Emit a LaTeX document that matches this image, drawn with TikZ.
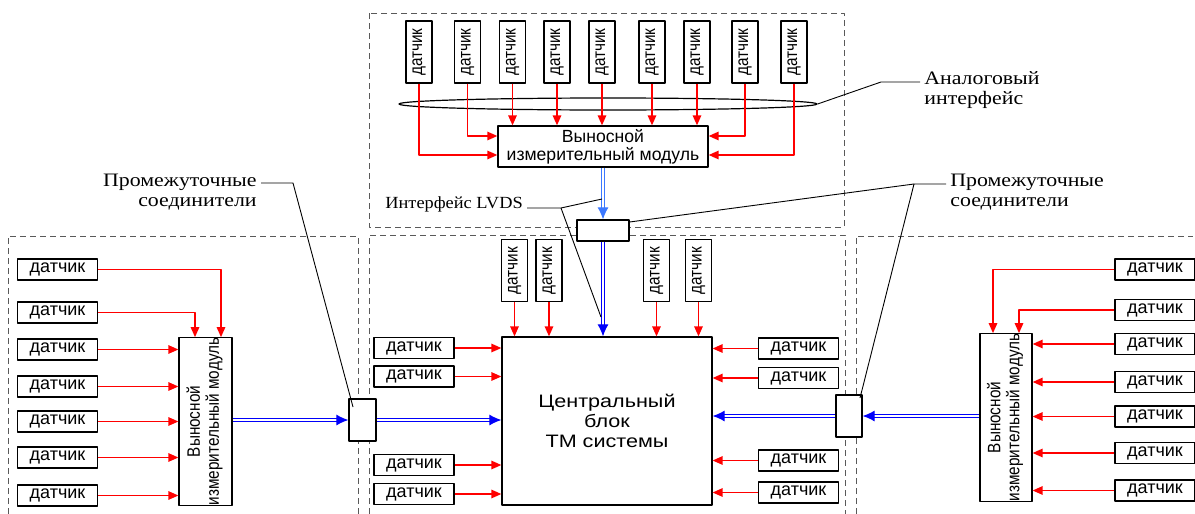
\documentclass[tikz,border=0pt]{standalone}
\usepackage{fontspec}
\setmainfont{Liberation Serif}
\newfontfamily\arialf{Liberation Sans}
\newfontfamily\arialcond[FakeStretch=0.85]{Liberation Sans}
\newfontfamily\arialwide[FakeStretch=1.2]{Liberation Sans}
\newfontfamily\timesw[FakeStretch=1.15]{Liberation Serif}
\newfontfamily\timesn[FakeStretch=1.08]{Liberation Serif}
\usepackage{tikz}
\usetikzlibrary{arrows.meta,shapes.geometric}
\usepackage{xcolor}
\definecolor{sigred}{RGB}{255,0,0}
\definecolor{lvdsblue}{RGB}{0,0,250}
\definecolor{lvdslight}{RGB}{60,120,255}
\newcommand{\vdat}{\rotatebox{90}{датчик}}
\newcommand{\vmod}{\rotatebox{90}{\begin{tabular}{@{}c@{}}Выносной\\измерительный модуль\end{tabular}}}

\begin{document}
\begin{tikzpicture}[x=0.5pt,y=-0.5pt,line join=round,
  sensh/.style={draw,line width=0.6pt,minimum width=40pt,minimum height=10.5pt,inner sep=0pt,font=\arialf\fontsize{9}{10}\selectfont},
  sensv/.style={draw,line width=0.6pt,minimum width=13pt,minimum height=31pt,inner sep=0pt,font=\arialcond\fontsize{9}{10}\selectfont},
  modbox/.style={draw,line width=0.6pt,inner sep=0pt,align=center},
  plug/.style={draw,line width=0.6pt,fill=white,inner sep=0pt},
  zone/.style={draw=black!65,line width=0.5pt,dash pattern=on 3pt off 2pt},
  sig/.style={sigred,line width=0.8pt,-{Triangle[length=5pt,width=4.2pt]}},
  lvds/.style={draw=lvdsblue,double=white,double distance=0.7pt,line width=0.55pt,-{Latex[length=6pt,width=5.5pt]}},
  lead/.style={line width=0.45pt},
  note/.style={font=\timesw\fontsize{9.5}{10}\selectfont,inner sep=2pt}]
\useasboundingbox (0,0) rectangle (1195,514);
\draw[zone] (369,13) rectangle (844,227);
\draw[zone] (369,514) -- (369,235) -- (845,235) -- (845,514);
\draw[zone] (8,514) -- (8,236) -- (358,236) -- (358,514);
\draw[zone] (856,514) -- (856,236) -- (1193,236);
\foreach \n/\x in {1/419,2/467.5,3/512.5,4/557,5/602,6/652,7/697,8/745,9/794}
  \node[sensv] (t\n) at (\x,52) {\vdat};
\node[draw,ellipse,line width=0.6pt,minimum width=209pt,minimum height=6pt,inner sep=0pt] (bus) at (608,104) {};
\node[modbox,minimum width=105pt,minimum height=20.5pt,font=\arialf\fontsize{8.8}{9.2}\selectfont] (vm) at (603,146.5) {Выносной\\измерительный модуль};
\foreach \n in {3,...,7}
  \draw[sig] (t\n.south) -- (t\n.south |- vm.north);
\draw[sig] (t1.south) |- ([yshift=-4.25pt]vm.west);
\draw[sig] (t2.south) |- ([yshift=5.25pt]vm.west);
\draw[sig] (t8.south) |- ([yshift=5.25pt]vm.east);
\draw[sig] (t9.south) |- ([yshift=-4.25pt]vm.east);
\node[plug,minimum width=26pt,minimum height=10.5pt] (cc) at (603,230.5) {};
\node[modbox,minimum width=105pt,minimum height=84pt,font=\arialwide\fontsize{9}{10}\selectfont] (cb) at (607,421) {Центральный\\блок\\ТМ системы};
\draw[lvds,draw=lvdslight] (vm.south) -- (cc.north);
\draw[lvds] (cc.south) -- (cc.south |- cb.north);
\foreach \n/\x in {1/514.5,2/549,3/656.5,4/698.5}{
  \node[sensv] (c\n) at (\x,270.5) {\vdat};
  \draw[sig] (c\n.south) -- (c\n.south |- cb.north);
}
\foreach \n/\y in {1/348,2/376.5,3/465,4/494}{
  \node[sensh] (cl\n) at (414,\y) {датчик};
  \draw[sig] (cl\n.east) -- (cl\n.east -| cb.west);
}
\foreach \n/\y in {1/348.5,2/378,3/460.5,4/492.5}{
  \node[sensh] (cr\n) at (798.5,\y) {датчик};
  \draw[sig] (cr\n.west) -- (cr\n.west -| cb.east);
}
\node[modbox,minimum width=26.5pt,minimum height=83.5pt,font=\arialcond\fontsize{9}{9.5}\selectfont] (lm) at (205.5,421.5) {\vmod};
\foreach \n/\y in {1/269.5,2/312.5,3/349.5,4/386.5,5/421.5,6/457.5,7/495.5}
  \node[sensh] (ls\n) at (57.5,\y) {датчик};
\draw[sig] (ls1.east) -| ([xshift=7.75pt]lm.north);
\draw[sig] (ls2.east) -| ([xshift=-5.25pt]lm.north);
\foreach \n in {3,...,7}
  \draw[sig] (ls\n.east) -- (ls\n.east -| lm.west);
\node[plug,minimum width=13.5pt,minimum height=21pt] (lc) at (362.5,420) {};
\draw[lvds] (lm.east |- lc.west) -- (lc.west);
\draw[lvds] (lc.east) -- (lc.east -| cb.west);
\node[modbox,minimum width=26pt,minimum height=83.5pt,font=\arialcond\fontsize{9}{9.5}\selectfont] (rm) at (1006,417.5) {\vmod};
\foreach \n/\y in {1/269.5,2/310,3/344,4/382,5/416.5,6/453,7/490.5}
  \node[sensh] (rs\n) at (1155,\y) {датчик};
\draw[sig] (rs1.west) -| ([xshift=-6.5pt]rm.north);
\draw[sig] (rs2.west) -| ([xshift=6.5pt]rm.north);
\foreach \n in {3,...,7}
  \draw[sig] (rs\n.west) -- (rs\n.west -| rm.east);
\node[plug,minimum width=13pt,minimum height=21pt] (rc) at (849,416) {};
\draw[lvds] (rm.west |- rc.east) -- (rc.east);
\draw[lvds] (rc.west) -- (rc.west -| cb.east);
\node[note,anchor=east,align=right] (lab1) at (261,192) {Промежуточные\\соединители};
\node[note,anchor=west,align=left] (lab2) at (946,192) {Промежуточные\\соединители};
\node[note,anchor=west,font=\timesn\fontsize{8.5}{10}\selectfont] (lab3) at (381,204) {Интерфейс LVDS};
\node[note,anchor=west,align=left] (lab4) at (920,90.5) {Аналоговый\\интерфейс};
\coordinate (k1) at (293,183);
\coordinate (k2) at (914,184);
\coordinate (k3) at (561,208);
\coordinate (k4) at (881,82);
\coordinate (p1) at (602,199);
\coordinate (p2) at (601,317);
\draw[lead] (lab1.east |- k1) -- (k1) -- ([xshift=-4.75pt,yshift=6.5pt]lc.center);
\draw[lead] (lab2.west |- k2) -- (k2) -- ([xshift=5.5pt,yshift=9pt]rc.center);
\draw[lead] (k2) -- ([yshift=4.25pt]cc.east);
\draw[lead] (lab3.east |- k3) -- (k3) -- (p1);
\draw[lead] (k3) -- (p2);
\draw[lead] (lab4.west |- k4) -- (k4) -- (bus.east);
\end{tikzpicture}
\end{document}
